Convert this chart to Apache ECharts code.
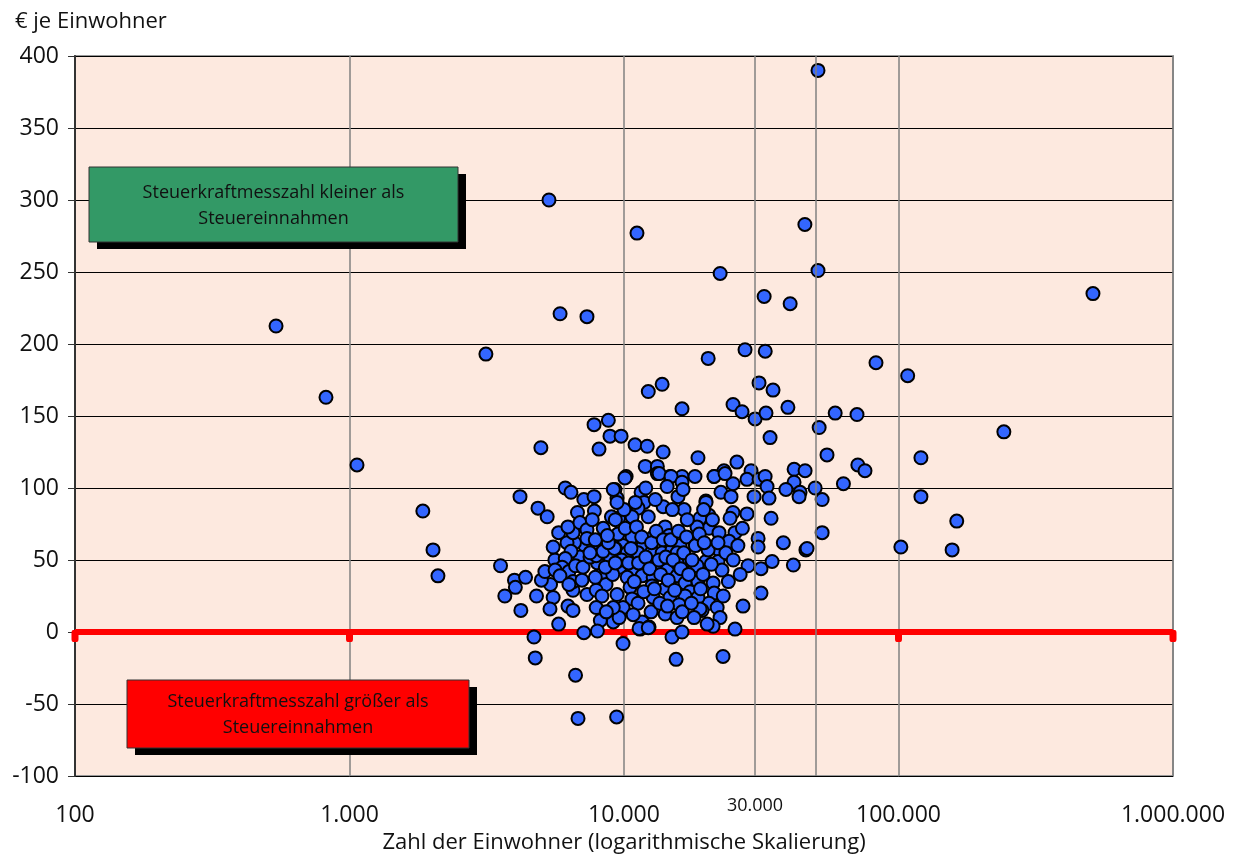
<!DOCTYPE html>
<html>
<head>
<meta charset="utf-8">
<script src="https://cdn.jsdelivr.net/npm/echarts@6/dist/echarts.min.js"></script>
<style>html,body{margin:0;padding:0;background:#fff}#c{width:1242px;height:854px}</style>
</head>
<body>
<div id="c"></div>
<script>
// Einwohner (x) and € je Einwohner (y)
const ausreisser = [
  [540,212.5],[821,163],[1065,116],[1850,84],[2015,57],[2100,39],[3140,193],[5330,300],[5850,221],[7330,219],
  [11150,277],[22400,249],[50900,390],[45600,283],[50900,251],[32400,233],[40300,228],[27600,196],[32700,195],
  [511000,235],[242000,139],[108000,178],[82800,187],[120700,121],[120700,94],[163000,77],[156800,57],[102000,59],
  [70600,151],[58800,152],[71100,116],[75500,112],[63000,103],[54900,123],[51400,142],[52700,69],[52700,92],
  [49700,100],[46000,57],[41400,46.5],[20260,190],[4980,128],[4180,94]
];
const gruppeOben = [
  [12260,167],[13770,172],[16270,155],[7780,144],[8770,147],[8890,136],[9760,136],[8110,127],[10970,130],[12150,129],
  [13890,125],[18600,121],[11950,115],[13230,115],[13230,110],[10180,108],[14710,108],[16270,108],[18140,108]
];
const gruppeRechts = [
  [31040,173],[34910,168],[24960,158],[26920,153],[30030,148],[32910,152],[39550,156],[34050,135],[25780,118],
  [21280,108],[23130,112],[24950,103],[29030,112],[28050,106],[31040,106],[32670,108],[33200,101],[29770,94],[33760,93],
  [41660,113],[45680,112],[41640,104],[38900,99],[43790,97],[43430,94],[22550,97],[24540,94],[19880,91],[20400,81],
  [24950,83],[24340,79],[28050,82],[34340,79],[20400,72],[22190,69],[25380,69],[24140,63],[30800,65],[30800,59],
  [38060,62],[46430,58],[22190,57],[19880,49],[22000,49],[22760,43],[28310,46],[31560,44],[34630,49],
  [21120,34],[21300,27],[31560,27],[27140,18],[20400,20],[21850,17],[22380,10],[19240,15],[21120,4]
];
const gruppeMitte = [
  [10080,107],[9270,99],[9430,93],[13430,110],[14840,108],[16270,104],[14360,101],[15730,94],[16410,99],[11540,97],
  [11840,90],[11250,86],[13890,87],[16550,85],[12260,80],[10700,80],[9550,79],[19900,90],[21300,108],[23340,110],
  [18920,79],[18450,73],[14120,73],[14600,67],[12770,66],[11740,60],[10700,66],[9920,60],[9300,58],[10270,55],
  [11250,55],[12660,56],[13770,55],[14960,57],[16000,60],[15610,55],[16690,49],[18450,46],[20250,57],[9670,45],
  [10790,43],[11950,47],[13230,44],[14360,43],[15610,48],[10270,38],[11640,39],[12770,38],[15610,39],[16690,34],
  [18600,35],[10520,31],[12660,32],[14120,30],[17400,28],[9430,26],[10700,23],[12770,24],[14710,24],[16690,25],
  [18600,24],[9920,17],[11250,20],[12550,14],[14120,12.5],[15610,10],[15870,19],[18920,16],[9140,7],[11640,7],
  [11440,2],[12340,3.5]
];
const gruppeKern = [
  [7600,60],[8000,48],[8300,40],[8600,33],[8900,52],[9100,40],[9500,68],[9800,50],[10100,72],[10400,48],
  [10600,58],[10900,35],[11100,73],[11300,48],[11600,66],[11800,28],[12000,52],[12400,44],[12600,62],[12900,30],
  [13100,70],[13400,50],[13600,40],[13900,64],[14200,52],[14500,36],[14800,64],[15100,50],[15300,29],[15800,70],
  [16100,44],[16500,55],[16900,66],[17200,40],[17700,50],[18200,60],[18800,68],[19400,40],[19600,62],[17000,78],
  [15000,85],[13000,92],[12000,100],[11000,90],[10000,85],[9000,80],[8400,72],[7800,84],[7200,60],[6900,52],
  [6600,62],[6200,62],[5600,50],[5400,33],[5000,36],[8200,8],[9600,10],[10800,12],[13500,20],[14400,18],
  [16300,14],[17600,20],[18000,10],[19000,30],[20800,47],[23500,55],[24000,35],[26000,60],[27000,72],[26500,40],
  [25000,50],[23000,25],[22000,62],[21000,78],[19500,85]
];
const gruppeLinks = [
  [4210,15],[3680,25],[4800,25],[5520,24],[5375,16],[6250,18],[6520,15],[3550,46],[3990,36],[4020,31],[4380,38],
  [5150,42],[5520,59],[5780,69],[4860,86],[5250,80],[6110,100],[6410,97],[7140,92],[7780,94],[6770,83],
  [6520,69],[6250,73],[6910,76],[7330,71],[7660,78],[6410,56],[6110,51],[5950,45],[5610,43],[6300,42],[5845,39],
  [6660,46],[7090,45],[7520,52],[7920,53],[6520,29],[7330,26],[7920,29],[8310,25],[6520,35],[7030,36],[7860,38],
  [6300,33],[7920,17],[9140,17],[8620,14],[8550,45],[9300,48],[8390,56],[9230,58],[8770,62],[7330,65],[7860,64],
  [8700,67],[7520,55],[9300,78],[9430,90],[9140,99]
];
const gruppeUnten = [
  [4700,-3.5],[4750,-18],[6660,-30],[6800,-60],[9400,-59],[9920,-8],[7140,-0.5],[8000,0.7],[5780,5.5],[14960,-3.5],
  [15480,-19],[16270,0],[11350,2.5],[12260,3],[22950,-17],[20090,5.5],[25380,2]
];
const referenzLinie = [[100,0],[1000,0],[10000,0],[100000,0],[1000000,0]];
const zusatzLinien = [30000, 50000];
const zusatzLabels = ['30.000', ''];
const yMin = -100, yMax = 400, yStep = 50;
const xMin = 100, xMax = 1000000;
const titel = '€ je Einwohner';
const xName = 'Zahl der Einwohner (logarithmische Skalierung)';
const boxOben = ['Steuerkraftmesszahl kleiner als', 'Steuereinnahmen'];
const boxUnten = ['Steuerkraftmesszahl größer als', 'Steuereinnahmen'];

const punkte = [].concat(ausreisser, gruppeOben, gruppeRechts, gruppeMitte, gruppeKern, gruppeLinks, gruppeUnten);
const FONT = 'Open Sans';
const fmt = v => String(Math.round(v)).replace(/\B(?=(\d{3})+(?!\d))/g, '.');

const chart = echarts.init(document.getElementById('c'), null, {renderer: 'canvas'});
function box(x, y, w, h, color, lines) {
  return [
    {type: 'rect', x: x + 8, y: y + 7, z: 100, shape: {x: 0, y: 0, width: w, height: h}, style: {fill: '#000'}},
    {type: 'rect', x: x, y: y, z: 101, shape: {x: 0, y: 0, width: w, height: h}, style: {fill: color, stroke: '#333', lineWidth: 1}},
    {type: 'text', x: x + w / 2, y: y + h / 2 + 1, z: 102, style: {
      text: lines.join('\n'), align: 'center', verticalAlign: 'middle',
      font: '18px "' + FONT + '"', fill: '#111', lineHeight: 26}}
  ];
}
const graphics = [].concat(
  box(89, 167, 369, 75, '#339966', boxOben),
  box(127, 680, 342, 68, '#FF0000', boxUnten)
);

chart.setOption({
  backgroundColor: '#ffffff',
  animation: false,
  title: {text: titel, left: 10, top: 6, textStyle: {fontFamily: FONT, fontSize: 22, fontWeight: 'normal', color: '#111'}},
  grid: {left: 75, right: 69, top: 56, bottom: 78, containLabel: false, outerBoundsMode: 'none',
    show: true, backgroundColor: '#FDE9DF', borderColor: '#999999', borderWidth: 2},
  xAxis: {
    type: 'log', logBase: 10, min: xMin, max: xMax,
    name: xName, nameLocation: 'middle', nameGap: 53,
    nameTextStyle: {fontFamily: FONT, fontSize: 22, color: '#111'},
    axisLine: {show: true, lineStyle: {color: '#999999', width: 2}},
    axisTick: {show: false},
    axisLabel: {fontFamily: FONT, fontSize: 23, color: '#111', margin: 28, formatter: fmt},
    splitLine: {show: true, lineStyle: {color: '#808080', width: 1.5}},
    minorSplitLine: {show: false}
  },
  yAxis: {
    type: 'value', min: yMin, max: yMax, interval: yStep,
    axisLine: {show: true, onZero: false, lineStyle: {color: '#333333', width: 2}},
    axisTick: {show: true, length: 7, lineStyle: {color: '#333333'}},
    axisLabel: {fontFamily: FONT, fontSize: 23, color: '#111', margin: 16},
    splitLine: {show: true, lineStyle: {color: '#000000', width: 1}}
  },
  graphic: graphics,
  series: [
    {
      type: 'line', data: referenzLinie, z: 2, silent: true,
      lineStyle: {color: '#FF0000', width: 6},
      symbol: 'roundRect', symbolSize: [7, 12], symbolOffset: [0, 4], showSymbol: true,
      itemStyle: {color: '#FF0000'},
      markLine: {
        silent: true, symbol: 'none', animation: false,
        lineStyle: {color: '#808080', width: 1.5, type: 'solid'},
        data: zusatzLinien.map((v, i) => ({
          xAxis: v,
          label: {show: zusatzLabels[i] !== '', formatter: zusatzLabels[i], position: 'start', distance: 21,
            fontFamily: FONT, fontSize: 18, color: '#111'}
        }))
      }
    },
    {
      type: 'scatter', data: punkte, z: 3, silent: true,
      symbol: 'circle', symbolSize: 13,
      itemStyle: {color: '#3366FF', borderColor: '#000000', borderWidth: 2, opacity: 1}
    }
  ]
});
</script>
</body>
</html>
